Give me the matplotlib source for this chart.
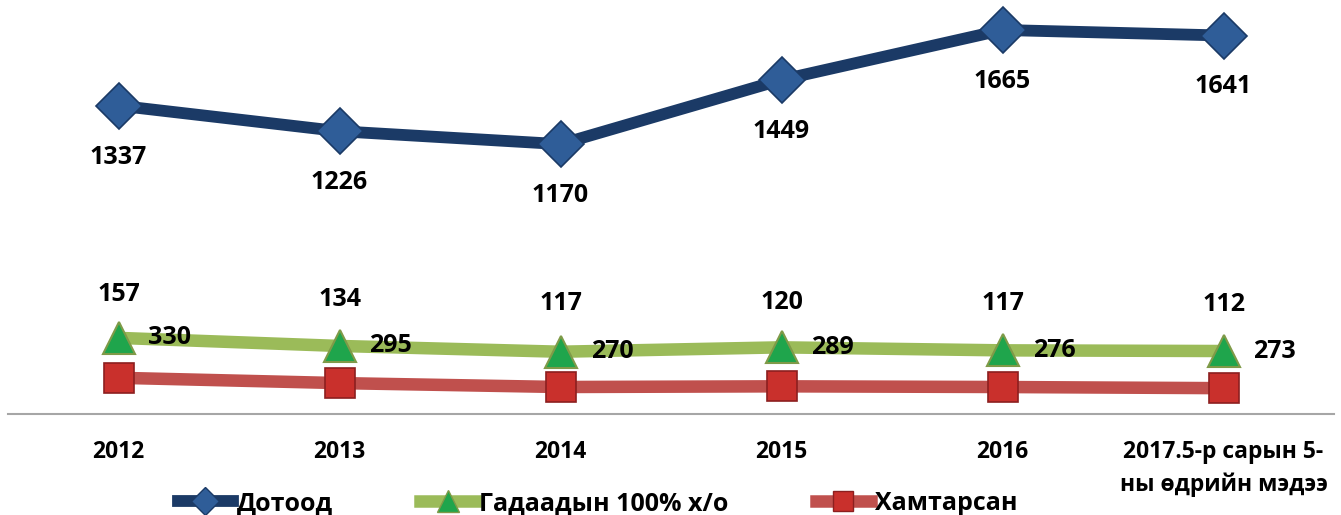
import matplotlib
matplotlib.use("Agg")
import matplotlib.pyplot as plt
from matplotlib.lines import Line2D

plt.rcParams['font.family'] = ['Open Sans', 'DejaVu Sans']

categories = ["2012", "2013", "2014", "2015", "2016", "2017.5-р сарын 5-\nны өдрийн мэдээ"]
dotood = [1337, 1226, 1170, 1449, 1665, 1641]
gadaad = [330, 295, 270, 289, 276, 273]
hamtarsan = [157, 134, 117, 120, 117, 112]
series_names = ["Дотоод", "Гадаадын 100% х/о", "Хамтарсан"]

fig = plt.figure(figsize=(13.41, 5.15), dpi=100)
ax = fig.add_axes([8/1341, (515-414)/515, 1326/1341, 414/515])

x = list(range(len(categories)))

navy = "#1B3A66"
green_line = "#9BBB59"
red_line = "#C0504D"

ax.plot(x, dotood, color=navy, lw=8.5, marker="D", ms=23, mfc="#2F5D98",
        mec="#1B3A66", mew=1.2, solid_capstyle="butt", zorder=3)
ax.plot(x, gadaad, color=green_line, lw=9, marker="^", ms=23, mfc="#1FA54C",
        mec="#7F9A48", mew=1.5, solid_capstyle="butt", zorder=3)
ax.plot(x, hamtarsan, color=red_line, lw=9, marker="s", ms=21, mfc="#C9302C",
        mec="#8C1F1F", mew=1.2, solid_capstyle="butt", zorder=3)

fs = 18
for xi, v in zip(x, dotood):
    ax.annotate(f"{v}", (xi, v), xytext=(0, -37), textcoords="offset points",
                ha="center", va="center", fontsize=fs, fontweight="bold")
for xi, v in zip(x, gadaad):
    ax.annotate(f"{v}", (xi, v), xytext=(37, 0), textcoords="offset points",
                ha="center", va="center", fontsize=fs, fontweight="bold")
for xi, v in zip(x, hamtarsan):
    ax.annotate(f"{v}", (xi, v), xytext=(0, 60), textcoords="offset points",
                ha="center", va="center", fontsize=fs, fontweight="bold")

ax.set_xlim(-0.5, len(categories) - 0.5)
ax.set_ylim(0, 1795)
ax.set_yticks([])
ax.set_xticks(x)
ax.set_xticklabels(categories, fontsize=16.5, fontweight="bold", linespacing=1.45)
ax.tick_params(axis="x", length=0, pad=19)
for lbl in ax.get_xticklabels():
    lbl.set_va("top")
for s in ["top", "left", "right"]:
    ax.spines[s].set_visible(False)
ax.spines["bottom"].set_color("#A6A6A6")
ax.spines["bottom"].set_linewidth(1.5)
ax.patch.set_alpha(0)

handles = [
    Line2D([], [], color=navy, lw=8.5, marker="D", ms=14, mfc="#2F5D98", mec="#1B3A66"),
    Line2D([], [], color=green_line, lw=9, marker="^", ms=16, mfc="#1FA54C", mec="#7F9A48"),
    Line2D([], [], color=red_line, lw=9, marker="s", ms=14, mfc="#C9302C", mec="#8C1F1F"),
]
fig.legend(handles, series_names, loc="center", bbox_to_anchor=(0.4456, 0.022),
           ncol=3, frameon=False, prop={"size": 18, "weight": "bold"},
           handlelength=2.2, handletextpad=0.15, columnspacing=3.5)

fig.savefig("out.png", dpi=100)
